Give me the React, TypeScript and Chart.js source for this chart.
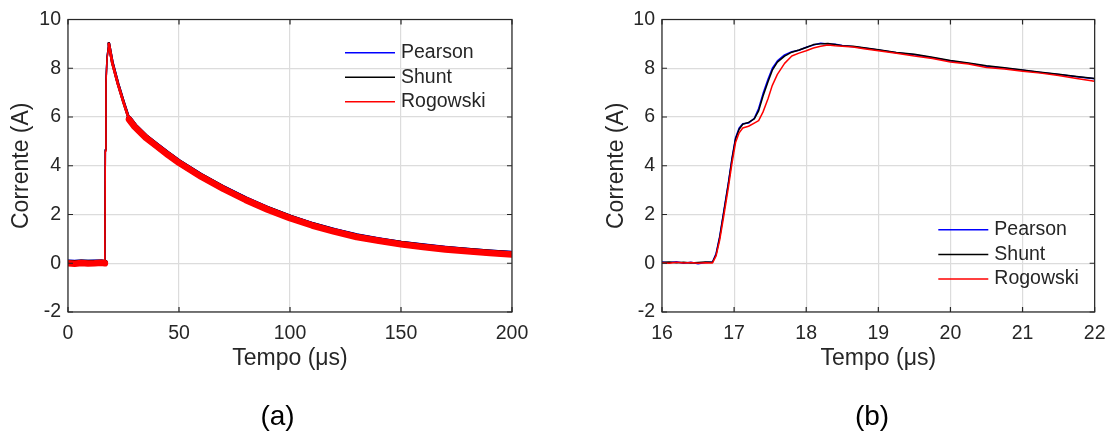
import React, { useEffect, useRef } from "react";
import { Chart, registerables } from "chart.js";

Chart.register(...registerables);

const FONT = '"Liberation Sans", Arial, Helvetica, sans-serif';
const TEXT = "#262626";

const seriesNames = ["Pearson", "Shunt", "Rogowski"];
const seriesColors = ["#0000ff", "#000000", "#ff0000"];

// ---- Panel (a): 0..200 us ----
const timeA = [0, 3, 6, 9, 12, 15, 16.6, 16.8, 17.1, 17.6, 18.4, 20, 22.5, 25, 27.5, 30, 35, 40, 45, 50, 60, 70, 80, 90, 100, 110, 120, 130, 140, 150, 160, 170, 180, 190, 200];
const pearsonA = [0.03, 0.02, 0.04, 0.02, 0.03, 0.04, 0.02, 4.65, 7.45, 8.45, 9.02, 8.24, 7.38, 6.63, 5.93, 5.63, 5.18, 4.83, 4.48, 4.15, 3.58, 3.08, 2.63, 2.23, 1.88, 1.58, 1.33, 1.11, 0.95, 0.81, 0.7, 0.6, 0.52, 0.45, 0.39];
const shuntA = [0.02, 0.01, 0.03, 0.02, 0.02, 0.03, 0.02, 4.65, 7.45, 8.45, 9.02, 8.22, 7.37, 6.62, 5.92, 5.62, 5.17, 4.82, 4.47, 4.14, 3.57, 3.07, 2.62, 2.22, 1.87, 1.57, 1.32, 1.1, 0.94, 0.8, 0.69, 0.59, 0.51, 0.44, 0.38];
const rogowskiA = [0.0, -0.02, 0.01, -0.01, 0.0, 0.02, 0.0, 4.6, 7.4, 8.4, 9.0, 8.2, 7.35, 6.6, 5.9, 5.6, 5.15, 4.8, 4.45, 4.12, 3.55, 3.05, 2.6, 2.2, 1.85, 1.55, 1.3, 1.08, 0.92, 0.78, 0.67, 0.57, 0.49, 0.42, 0.36];
const xTicksA = [0, 50, 100, 150, 200];

// ---- Panel (b): 16..22 us ----
const timeB = [16.0, 16.1, 16.2, 16.3, 16.4, 16.5, 16.6, 16.7, 16.75, 16.8, 16.86, 16.92, 16.97, 17.02, 17.07, 17.12, 17.2, 17.28, 17.34, 17.4, 17.47, 17.53, 17.6, 17.7, 17.8, 17.9, 18.0, 18.1, 18.2, 18.3, 18.4, 18.5, 18.65, 18.8, 19.0, 19.25, 19.5, 19.75, 20.0, 20.25, 20.5, 20.75, 21.0, 21.25, 21.5, 21.75, 22.0];
const pearsonB = [0.05, 0.02, 0.06, 0.0, 0.04, -0.02, 0.03, 0.05, 0.4, 1.1, 2.2, 3.3, 4.3, 5.15, 5.55, 5.72, 5.75, 5.95, 6.35, 6.95, 7.55, 8.0, 8.3, 8.55, 8.68, 8.74, 8.86, 8.95, 9.03, 9.0, 8.98, 8.93, 8.88, 8.83, 8.75, 8.64, 8.55, 8.43, 8.3, 8.2, 8.08, 8.0, 7.92, 7.83, 7.74, 7.65, 7.57];
const shuntB = [0.03, 0.05, 0.02, 0.04, 0.01, 0.03, 0.05, 0.04, 0.35, 1.05, 2.15, 3.25, 4.25, 5.1, 5.5, 5.7, 5.78, 5.92, 6.25, 6.85, 7.45, 7.92, 8.25, 8.5, 8.66, 8.75, 8.85, 8.97, 9.0, 9.02, 8.97, 8.92, 8.9, 8.84, 8.76, 8.65, 8.57, 8.45, 8.32, 8.22, 8.1, 8.02, 7.93, 7.84, 7.75, 7.66, 7.58];
const rogowskiB = [0.02, 0.0, 0.04, 0.01, 0.03, 0.0, 0.02, 0.01, 0.3, 0.95, 2.0, 3.1, 4.1, 4.95, 5.35, 5.55, 5.62, 5.75, 5.85, 6.2, 6.75, 7.3, 7.75, 8.2, 8.5, 8.62, 8.72, 8.83, 8.9, 8.95, 8.92, 8.9, 8.87, 8.8, 8.72, 8.62, 8.5, 8.4, 8.26, 8.17, 8.03, 7.97, 7.88, 7.8, 7.7, 7.58, 7.47];
const xTicksB = [16, 17, 18, 19, 20, 21, 22];

const yTicks = [-2, 0, 2, 4, 6, 8, 10];

const xTitle = "Tempo (μs)";
const yTitle = "Corrente (A)";

type LegendPos = { x0: number; y0: number; dy: number };

function framePlugin() {
  return {
    id: "frameTicks",
    afterDatasetsDraw(chart: any) {
      const { ctx, chartArea: a, scales } = chart;
      ctx.save();
      ctx.strokeStyle = TEXT;
      ctx.lineWidth = 1.2;
      ctx.strokeRect(a.left, a.top, a.right - a.left, a.bottom - a.top);
      const tl = 5;
      ctx.beginPath();
      scales.x.ticks.forEach((t: any) => {
        const px = scales.x.getPixelForValue(t.value);
        ctx.moveTo(px, a.bottom);
        ctx.lineTo(px, a.bottom - tl);
        ctx.moveTo(px, a.top);
        ctx.lineTo(px, a.top + tl);
      });
      scales.y.ticks.forEach((t: any) => {
        const py = scales.y.getPixelForValue(t.value);
        ctx.moveTo(a.left, py);
        ctx.lineTo(a.left + tl, py);
        ctx.moveTo(a.right, py);
        ctx.lineTo(a.right - tl, py);
      });
      ctx.stroke();
      ctx.restore();
    },
  };
}

function legendPlugin(pos: LegendPos) {
  return {
    id: "inlineLegend",
    afterDraw(chart: any) {
      const { ctx, chartArea: a } = chart;
      ctx.save();
      ctx.font = `19.5px ${FONT}`;
      ctx.textBaseline = "middle";
      ctx.textAlign = "left";
      seriesNames.forEach((name, i) => {
        const y = a.top + pos.y0 + i * pos.dy;
        ctx.strokeStyle = seriesColors[i];
        ctx.lineWidth = 1.5;
        ctx.beginPath();
        ctx.moveTo(a.left + pos.x0, y);
        ctx.lineTo(a.left + pos.x0 + 50, y);
        ctx.stroke();
        ctx.fillStyle = TEXT;
        ctx.fillText(name, a.left + pos.x0 + 56, y);
      });
      ctx.restore();
    },
  };
}

function toPoints(xs: number[], ys: number[]) {
  return xs.map((x, i) => ({ x, y: ys[i] }));
}

function widthA(x0: number, band: number) {
  if (x0 < 16.6) return band;
  if (x0 < 18.4) return 1.6;
  if (x0 < 27.5) return 2.8;
  return band;
}

function makeConfig(opts: {
  times: number[];
  values: number[][];
  xMin: number;
  xMax: number;
  xTicks: number[];
  padLeft: number;
  padRight: number;
  yWidth: number;
  legend: LegendPos;
  thick: boolean;
}): any {
  const bands = [5.8, 6.0, 6.6];
  const datasets = seriesNames.map((name, i) => ({
    label: name,
    data: toPoints(opts.times, opts.values[i]),
    borderColor: seriesColors[i],
    backgroundColor: seriesColors[i],
    borderWidth: 1.5,
    pointRadius: 0,
    tension: 0,
    fill: false,
    borderJoinStyle: "round",
    borderCapStyle: "round",
    order: 3 - i,
    segment: opts.thick
      ? { borderWidth: (c: any) => widthA(c.p0.parsed.x, bands[i]) }
      : undefined,
  }));
  return {
    type: "line",
    data: { datasets },
    options: {
      animation: false,
      responsive: false,
      maintainAspectRatio: false,
      devicePixelRatio: 1,
      layout: { padding: { left: opts.padLeft, right: opts.padRight, top: 19.5, bottom: 0 } },
      plugins: { legend: { display: false }, tooltip: { enabled: false } },
      scales: {
        x: {
          type: "linear",
          min: opts.xMin,
          max: opts.xMax,
          afterBuildTicks: (s: any) => {
            s.ticks = opts.xTicks.map((v) => ({ value: v }));
          },
          afterFit: (s: any) => {
            s.height = 120;
          },
          grid: { color: "#dcdcdc", lineWidth: 1.2, drawTicks: false },
          border: { display: false },
          ticks: {
            color: TEXT,
            padding: 9.5,
            maxRotation: 0,
            autoSkip: false,
            font: { family: FONT, size: 19.5 },
            callback: (v: any) => String(v),
          },
          title: {
            display: true,
            text: xTitle,
            color: TEXT,
            font: { family: FONT, size: 23 },
            padding: { top: 0, bottom: 59.5 },
          },
        },
        y: {
          type: "linear",
          min: -2,
          max: 10,
          afterBuildTicks: (s: any) => {
            s.ticks = yTicks.map((v) => ({ value: v }));
          },
          afterFit: (s: any) => {
            s.width = opts.yWidth;
          },
          grid: { color: "#dcdcdc", lineWidth: 1.2, drawTicks: false },
          border: { display: false },
          ticks: {
            color: TEXT,
            padding: 7,
            autoSkip: false,
            font: { family: FONT, size: 19.5 },
            callback: (v: any) => String(v),
          },
          title: {
            display: true,
            text: yTitle,
            color: TEXT,
            font: { family: FONT, size: 23 },
            padding: { top: 8.2, bottom: 0 },
          },
        },
      },
    },
    plugins: [framePlugin(), legendPlugin(opts.legend)],
  };
}

function Panel(props: { left: number; width: number; config: any }) {
  const ref = useRef<HTMLCanvasElement | null>(null);
  useEffect(() => {
    if (!ref.current) return;
    const chart = new Chart(ref.current, props.config);
    return () => chart.destroy();
  }, []);
  return (
    <div style={{ position: "absolute", left: props.left, top: 0, width: props.width, height: 432 }}>
      <canvas ref={ref} width={props.width} height={432} style={{ width: props.width, height: 432, display: "block" }} />
    </div>
  );
}

export default function App() {
  const configA = makeConfig({
    times: timeA,
    values: [pearsonA, shuntA, rogowskiA],
    xMin: 0,
    xMax: 200,
    xTicks: xTicksA,
    padLeft: 0,
    padRight: 45,
    yWidth: 68,
    legend: { x0: 277, y0: 33.3, dy: 24.5 },
    thick: true,
  });
  const configB = makeConfig({
    times: timeB,
    values: [pearsonB, shuntB, rogowskiB],
    xMin: 16,
    xMax: 22,
    xTicks: xTicksB,
    padLeft: 38,
    padRight: 13,
    yWidth: 67,
    legend: { x0: 276.3, y0: 210.3, dy: 24.6 },
    thick: false,
  });
  const capStyle: React.CSSProperties = {
    position: "absolute",
    top: 402,
    width: 100,
    textAlign: "center",
    fontFamily: FONT,
    fontSize: 28,
    lineHeight: "28px",
    color: "#000",
  };
  return (
    <div style={{ position: "fixed", left: 0, top: 0, width: 1115, height: 432, background: "#fff", overflow: "hidden" }}>
      <Panel left={0} width={557} config={configA} />
      <Panel left={557} width={558} config={configB} />
      <div style={{ ...capStyle, left: 277.5 - 50 }}>(a)</div>
      <div style={{ ...capStyle, left: 872 - 50 }}>(b)</div>
    </div>
  );
}
